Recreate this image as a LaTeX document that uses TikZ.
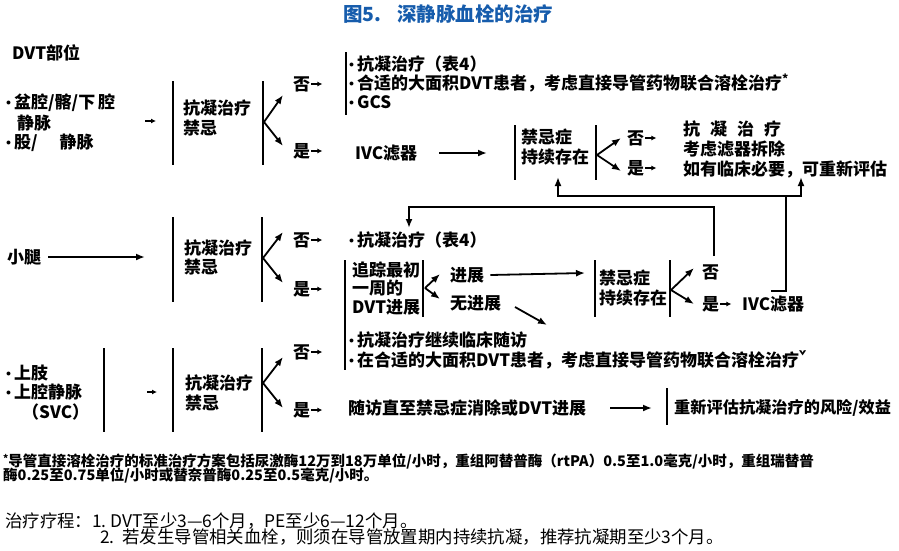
\documentclass[tikz,border=0pt]{standalone}
\usepackage{fontspec}
\setmainfont{Noto Sans CJK SC}
\usetikzlibrary{arrows.meta}
\definecolor{titleblue}{RGB}{22,92,172}
\newcommand\dotitem{\raisebox{3.2pt}{\fontsize{10}{10}\selectfont$\bullet$}\hspace{3pt}}

\begin{document}
\begin{tikzpicture}[x=1pt,y=-1pt,
  txt/.style={right,inner sep=0pt,font=\fontsize{17}{19}\selectfont\bfseries},
  small/.style={right,inner sep=0pt,font=\fontsize{14.5}{16}\selectfont\bfseries},
  note/.style={right,inner sep=0pt,font=\fontsize{17.4}{19}\selectfont},
  bar/.style={line width=2pt},
  arr/.style={line width=1.8pt,-{Latex[length=9pt,width=7pt]}},
  sarr/.style={line width=1.4pt,-{Latex[length=5pt,width=5pt]}}]

\useasboundingbox (0,0) rectangle (899,550);

\node (title) [right,inner sep=0pt,text=titleblue,font=\fontsize{19.5}{21}\selectfont\bfseries] at (343,14) {图5.\hspace{16pt}深静脉血栓的治疗};

% pelvic / femoral
\node (site) [txt] at (12,53) {DVT部位};
\node (pelvic) [txt] at (6,103) {\dotitem 盆腔/髂/下\,腔};
\node (pelvicB) [txt] at (17,123) {静脉};
\node (femoral) [txt] at (6,143) {\dotitem 股/\hspace{22pt}静脉};
\coordinate (pelvicOut) at (145,121);
\draw[sarr] (pelvicOut) -- ++(11,0);

\draw[bar] (173,81) -- (173,165);
\node (ciA) [txt] at (183,108) {抗凝治疗};
\node (ciA2) [txt] at (183,128) {禁忌};
\draw[bar] (263,81) -- (263,165);
\coordinate (forkA) at (264,122);
\draw[arr] (forkA) -- (283,95);
\draw[arr] (forkA) -- (283,146);
\node (noA) [txt] at (293,84) {否};
\draw[sarr] ([xshift=1pt]noA.east) -- ++(11,0);
\node (yesA) [txt] at (293,151) {是};
\draw[sarr] ([xshift=1pt]yesA.east) -- ++(11,0);

\draw[bar] (346,52) -- (346,115);
\node (antiA) [txt] at (349,64) {\dotitem 抗凝治疗（表4）};
\node (cdtA) [txt] at (349,83) {\dotitem 合适的大面积DVT患者，考虑直接导管药物联合溶栓治疗\textsuperscript{*}};
\node (gcs) [txt] at (349,102) {\dotitem GCS};

\node (ivcA) [txt] at (355,153) {IVC滤器};
\draw[arr] ([xshift=22pt]ivcA.east) -- (487,153);
\draw[bar] (515,125) -- (515,180);
\node (ciB) [txt] at (521,137) {禁忌症};
\node (ciB2) [txt] at (521,157) {持续存在};
\draw[bar] (596,125) -- (596,180);
\coordinate (forkB) at (597,155);
\draw[arr] (forkB) -- (621,138);
\draw[arr] (forkB) -- (621,171);
\node (noB) [txt] at (627,138) {否};
\draw[sarr] ([xshift=1pt]noB.east) -- ++(11,0);
\node (yesB) [txt] at (627,168) {是};
\draw[sarr] ([xshift=1pt]yesB.east) -- ++(11,0);
\node (antiB) [txt] at (683,129) {抗\hspace{10pt}凝\hspace{10pt}治\hspace{10pt}疗};
\node (remove) [txt] at (683,149) {考虑滤器拆除};
\node (reeval) [txt] at (683,169) {如有临床必要，可重新评估};

% feedback lines
\coordinate (ivcUp) at (771,291);
\coordinate (loopA) at (786,196);
\draw[line width=1.8pt] (ivcUp) -| (loopA);
\draw[arr] (loopA) -| (558,177);
\draw[arr] (loopA) -| (801,177);
\coordinate (noUp) at (714,256);
\draw[arr] (noUp) |- (409,207) -- (409,228);

% calf
\node (calf) [txt] at (7,257) {小腿};
\draw[arr] ([xshift=7pt]calf.east) -- (145,257);
\draw[bar] (173,217) -- (173,302);
\node (ciC) [txt] at (184,248) {抗凝治疗};
\node (ciC2) [txt] at (184,267) {禁忌};
\draw[bar] (262,217) -- (262,302);
\coordinate (forkC) at (263,258);
\draw[arr] (forkC) -- (283,232);
\draw[arr] (forkC) -- (283,283);
\node (noC) [txt] at (293,240) {否};
\draw[sarr] ([xshift=1pt]noC.east) -- ++(11,0);
\node (yesC) [txt] at (293,289) {是};
\draw[sarr] ([xshift=1pt]yesC.east) -- ++(11,0);
\node (antiC) [txt] at (349,240) {\dotitem 抗凝治疗（表4）};

\draw[bar] (345,260) -- (345,370);
\node (track) [txt] at (352,270) {追踪最初};
\node (track2) [txt] at (352,288) {一周的};
\node (track3) [txt] at (352,307) {DVT进展};
\draw[bar] (423,260) -- (423,317);
\coordinate (forkD) at (425,288);
\draw[arr] (forkD) -- (440,274);
\draw[arr] (forkD) -- (440,299);
\node (prog) [txt] at (450,275) {进展};
\node (noprog) [txt] at (450,303) {无进展};
\draw[arr] ([xshift=6pt]prog.east) -- (585,273);
\coordinate (noprogOut) at (515,307);
\draw[arr] (noprogOut) -- (547,325);

\draw[bar] (595,260) -- (595,317);
\node (ciD) [txt] at (599,278) {禁忌症};
\node (ciD2) [txt] at (599,298) {持续存在};
\draw[bar] (670,260) -- (670,317);
\coordinate (forkE) at (671,290);
\draw[arr] (forkE) -- (694,268);
\draw[arr] (forkE) -- (694,304);
\node (noD) [txt] at (702,272) {否};
\node (yesD) [txt] at (702,304) {是};
\draw[sarr] ([xshift=1pt]yesD.east) -- ++(11,0);
\node (ivcD) [txt] at (742,304) {IVC滤器};

\node (contin) [txt] at (349,340) {\dotitem 抗凝治疗继续临床随访};
\node (cdtC) [txt] at (349,360) {\dotitem 在合适的大面积DVT患者，考虑直接导管药物联合溶栓治疗\textsuperscript{ˇ}};

% upper limb
\node (arm) [txt] at (6,373) {\dotitem 上肢};
\node (svc) [txt] at (6,392) {\dotitem 上腔静脉};
\node (svc2) [txt] at (22,412) {（SVC）};
\draw[bar] (104,348) -- (104,432);
\coordinate (svcOut) at (147,392);
\draw[sarr] (svcOut) -- ++(10,0);
\draw[bar] (173,348) -- (173,432);
\node (ciE) [txt] at (185,383) {抗凝治疗};
\node (ciE2) [txt] at (185,403) {禁忌};
\draw[bar] (262,348) -- (262,432);
\coordinate (forkF) at (263,383);
\draw[arr] (forkF) -- (283,357);
\draw[arr] (forkF) -- (283,408);
\node (noE) [txt] at (293,352) {否};
\draw[sarr] ([xshift=1pt]noE.east) -- ++(11,0);
\node (yesE) [txt] at (293,410) {是};
\draw[sarr] ([xshift=1pt]yesE.east) -- ++(11,0);
\node (follow) [txt] at (348,408) {随访直至禁忌症消除或DVT进展};
\draw[arr] ([xshift=24pt]follow.east) -- (652,408);
\draw[bar] (667,388) -- (667,425);
\node (risk) [txt,font=\fontsize{16.2}{18}\selectfont\bfseries] at (674,408) {重新评估抗凝治疗的风险/效益};

% notes
\node (fn1) [small] at (3,461) {\raisebox{4pt}{\fontsize{10}{10}\selectfont *}导管直接溶栓治疗的标准治疗方案包括尿激酶12万到18万单位/小时，重组阿替普酶（rtPA）0.5至1.0毫克/小时，重组瑞替普};
\node (fn2) [small] at (3,475) {酶0.25至0.75单位/小时或替奈普酶0.25至0.5毫克/小时。};
\node (course) [note] at (5,521) {治疗疗程：1.\ DVT至少3—6个月，PE至少6—12个月。};
\node (course2) [note] at (100,537) {2.\ \ 若发生导管相关血栓，则须在导管放置期内持续抗凝，推荐抗凝期至少3个月。};

\end{tikzpicture}
\end{document}
